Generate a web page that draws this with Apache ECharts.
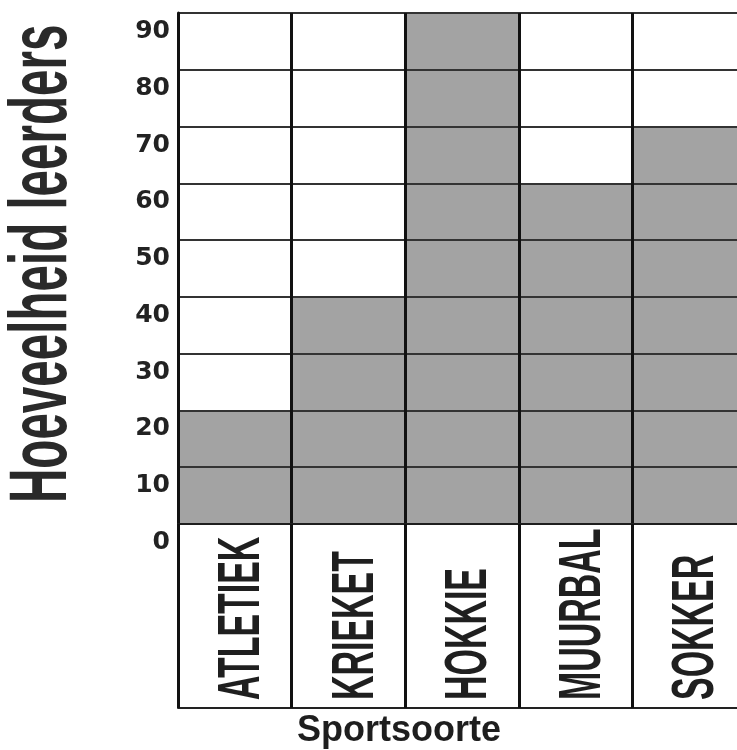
<!DOCTYPE html>
<html>
<head>
<meta charset="utf-8">
<script src="https://cdn.jsdelivr.net/npm/echarts@6/dist/echarts.min.js"></script>
<style>
  html, body { margin: 0; padding: 0; background: #fff; overflow: hidden; width: 737px; height: 750px; }
  #chart { width: 746px; height: 750px; }
</style>
</head>
<body>
<div id="chart"></div>
<script>
// Sports and number of learners per sport
const categories = ['ATLETIEK', 'KRIEKET', 'HOKKIE', 'MUURBAL', 'SOKKER'];
const learners = [20, 40, 90, 60, 70];

// Value axis range and step
const yMin = 0;
const yMax = 90;
const yStep = 10;

const yAxisTitle = 'Hoeveelheid leerders';
const xAxisTitle = 'Sportsoorte';

const condensedFont = "'Liberation Sans', Arial, sans-serif";
const LABEL_DROP = 176;   // distance from the zero line to where the sport names start

const chart = echarts.init(document.getElementById('chart'), null, { renderer: 'canvas' });

chart.setOption({
  animation: false,
  backgroundColor: '#ffffff',
  grid: { left: 178, top: 13, right: 0, bottom: 226, containLabel: false },
  xAxis: [
    {
      type: 'category',
      data: categories,
      boundaryGap: true,
      z: 3,
      axisLine: { show: true, lineStyle: { color: '#1e1e1e', width: 2 } },
      axisTick: { show: true, length: 184, lineStyle: { color: '#111', width: 3 } },
      axisLabel: { show: false },
      splitLine: { show: true, lineStyle: { color: '#111', width: 3 } }
    },
    {
      // bottom border of the label cells
      type: 'category',
      data: categories,
      position: 'bottom',
      offset: 184,
      axisLine: { show: true, lineStyle: { color: '#222', width: 2 } },
      axisTick: { show: false },
      axisLabel: { show: false },
      splitLine: { show: false }
    }
  ],
  yAxis: {
    type: 'value',
    min: yMin,
    max: yMax,
    interval: yStep,
    z: 3,
    axisLine: { show: true, lineStyle: { color: '#111', width: 3 } },
    axisTick: { show: false },
    splitLine: { show: true, lineStyle: { color: '#333', width: 2 } },
    axisLabel: {
      margin: 8,
      fontFamily: 'DejaVu Sans',
      fontWeight: 'bold',
      fontSize: 25,
      color: '#222',
      verticalAlign: 'top',
      lineHeight: 37
    }
  },
  graphic: [
    {
      type: 'text',
      x: 43,
      y: 503,
      rotation: Math.PI / 2,
      scaleX: 0.58,
      z: 10,
      style: {
        text: yAxisTitle,
        fontFamily: condensedFont,
        fontWeight: 'bold',
        fontSize: 82,
        fill: '#2a2a2a',
        align: 'left',
        verticalAlign: 'middle'
      }
    },
    {
      type: 'text',
      x: 297,
      y: 731,
      z: 10,
      style: {
        text: xAxisTitle,
        fontFamily: condensedFont,
        fontWeight: 'bold',
        fontSize: 36,
        fill: '#1e1e1e',
        align: 'left',
        verticalAlign: 'middle'
      }
    }
  ],
  series: [
    {
      type: 'bar',
      data: learners,
      barWidth: '100%',
      barCategoryGap: '0%',
      silent: true,
      itemStyle: { color: '#a3a3a3' }
    },
    {
      // sport names written upwards inside the cells below the zero line
      type: 'custom',
      clip: false,
      silent: true,
      z: 5,
      data: categories.map((c, i) => [i, 0]),
      renderItem: function (params, api) {
        const p = api.coord([api.value(0), 0]);
        return {
          type: 'text',
          x: p[0] + 8,
          y: p[1] + LABEL_DROP,
          rotation: Math.PI / 2,
          scaleX: 0.575,
          style: {
            text: categories[params.dataIndex],
            fontFamily: condensedFont,
            fontWeight: 'bold',
            fontSize: 59,
            fill: '#1f1f1f',
            align: 'left',
            verticalAlign: 'middle'
          }
        };
      }
    }
  ]
});
</script>
</body>
</html>
